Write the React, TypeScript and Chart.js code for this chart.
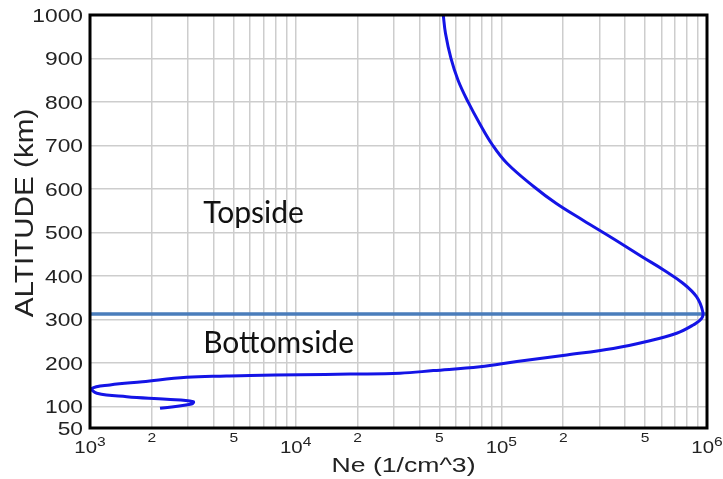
import React, { useEffect, useRef } from "react";
import { Chart, registerables } from "chart.js";

Chart.register(...registerables);

// Electron density profile, ordered from top to bottom
const altitudeKm = [
  1000, 958, 900, 850, 800, 751, 701, 659, 605, 567, 528, 486, 444, 413, 383,
  352, 318, 302, 287, 268, 249, 233, 218, 203, 191, 182, 176, 174, 172.5, 171,
  169.6, 166.6, 156.5, 149, 141, 130, 122, 116, 110.5, 105, 95.3,
];
const electronDensity = [
  52200, 53500, 56900, 61600, 68900, 78300, 90600, 106500, 144100, 184400,
  249500, 349000, 483000, 618000, 764000, 889000, 953000, 942000, 857000,
  712000, 509000, 350000, 208000, 119000, 78700, 46700, 32100, 18400, 10500,
  6000, 4600, 2950, 1800, 1250, 1020, 1080, 1510, 2360, 3180, 3120, 2190,
];

// F-layer peak boundary (km)
const boundaryKm = 312;

// Axis ticks
const yTickValues = [50, 100, 200, 300, 400, 500, 600, 700, 800, 900, 1000];
const xDecades = [1e3, 1e4, 1e5, 1e6];
const xDecadeExponents = ["3", "4", "5", "6"];
const xGridMultipliers = [1, 2, 3, 4, 5, 6, 7, 8, 9];
const xMinorLabelMultipliers = [2, 5];

const xTitle = "Ne (1/cm^3)";
const yTitle = "ALTITUDE (km)";
const annotations = [
  { text: "Topside", x: 3550, y: 521 },
  { text: "Bottomside", x: 3550, y: 222 },
];

const AXIS_FONT = '"Liberation Sans", Arial, sans-serif';
const TEXT_COLOR = "#222";

function drawStretched(
  ctx: CanvasRenderingContext2D,
  text: string,
  x: number,
  y: number,
  font: string,
  sx: number,
  align: "left" | "center" | "right"
) {
  ctx.save();
  ctx.font = font;
  ctx.textBaseline = "alphabetic";
  ctx.textAlign = "left";
  const w = ctx.measureText(text).width * sx;
  let left = x;
  if (align === "center") left = x - w / 2;
  if (align === "right") left = x - w;
  ctx.translate(left, y);
  ctx.scale(sx, 1);
  ctx.fillText(text, 0, 0);
  ctx.restore();
  return w;
}

const labelsPlugin = {
  id: "profileLabels",
  afterDraw(chart: any) {
    const { ctx, chartArea, scales } = chart;
    const xs = scales.x;
    const ys = scales.y;

    // frame
    ctx.save();
    ctx.strokeStyle = "#000";
    ctx.lineWidth = 3;
    ctx.strokeRect(
      chartArea.left,
      chartArea.top,
      chartArea.right - chartArea.left,
      chartArea.bottom - chartArea.top
    );
    ctx.restore();

    ctx.save();
    ctx.fillStyle = TEXT_COLOR;

    // y tick labels
    yTickValues.forEach((v) => {
      const py = ys.getPixelForValue(v);
      drawStretched(ctx, String(v), chartArea.left - 7, py + 7, `19px ${AXIS_FONT}`, 1.2, "right");
    });

    // x tick labels: decades with superscript exponents
    xDecades.forEach((v, i) => {
      const px = xs.getPixelForValue(v);
      ctx.font = `17px ${AXIS_FONT}`;
      const wBase = ctx.measureText("10").width * 1.2;
      ctx.font = `13px ${AXIS_FONT}`;
      const wExp = ctx.measureText(xDecadeExponents[i]).width * 1.2;
      const left = px - (wBase + wExp) / 2;
      drawStretched(ctx, "10", left, chartArea.bottom + 25, `17px ${AXIS_FONT}`, 1.2, "left");
      drawStretched(ctx, xDecadeExponents[i], left + wBase, chartArea.bottom + 18, `13px ${AXIS_FONT}`, 1.2, "left");
    });
    // minor labels 2 and 5
    xDecades.slice(0, -1).forEach((d) => {
      xMinorLabelMultipliers.forEach((m) => {
        const px = xs.getPixelForValue(d * m);
        drawStretched(ctx, String(m), px, chartArea.bottom + 14, `13px ${AXIS_FONT}`, 1.2, "center");
      });
    });

    // axis titles
    const xMid = (chartArea.left + chartArea.right) / 2;
    drawStretched(ctx, xTitle, xMid + 5, chartArea.bottom + 44, `20px ${AXIS_FONT}`, 1.33, "center");

    ctx.save();
    ctx.translate(33, 213);
    ctx.rotate(-Math.PI / 2);
    drawStretched(ctx, yTitle, 0, 0, `26px ${AXIS_FONT}`, 1.14, "center");
    ctx.restore();

    // region annotations
    ctx.fillStyle = "#111";
    annotations.forEach((a) => {
      const px = xs.getPixelForValue(a.x);
      const py = ys.getPixelForValue(a.y);
      drawStretched(ctx, a.text, px, py, `30px Lato, "Open Sans", sans-serif`, 1.0, "left");
    });

    ctx.restore();
  },
};

export default function App() {
  const canvasRef = useRef<HTMLCanvasElement | null>(null);

  useEffect(() => {
    if (!canvasRef.current) return;
    const xGridValues: number[] = [];
    xDecades.slice(0, -1).forEach((d) =>
      xGridMultipliers.forEach((m) => xGridValues.push(d * m))
    );
    xGridValues.push(xDecades[xDecades.length - 1]);

    const chart = new Chart(canvasRef.current, {
      type: "scatter",
      data: {
        datasets: [
          {
            label: "Ne",
            data: altitudeKm.map((h, i) => ({ x: electronDensity[i], y: h })),
            showLine: true,
            borderColor: "#1414e6",
            borderWidth: 3,
            pointRadius: 0,
            tension: 0.4,
            fill: false,
          },
          {
            label: "Boundary",
            data: [
              { x: xDecades[0], y: boundaryKm },
              { x: xDecades[xDecades.length - 1], y: boundaryKm },
            ],
            showLine: true,
            borderColor: "#4a7dbb",
            borderWidth: 3.5,
            pointRadius: 0,
            fill: false,
          },
        ],
      },
      options: {
        animation: false,
        responsive: true,
        maintainAspectRatio: false,
        layout: { padding: { left: 90, top: 15, right: 16, bottom: 51 } },
        plugins: { legend: { display: false }, tooltip: { enabled: false } },
        scales: {
          x: {
            type: "logarithmic",
            min: 1e3,
            max: 1e6,
            afterBuildTicks: (s: any) => {
              s.ticks = xGridValues.map((v) => ({ value: v }));
            },
            afterFit: (s: any) => {
              s.height = 0;
            },
            ticks: { display: false },
            grid: { color: "#cdcdcd", lineWidth: 1.5, drawTicks: false },
            border: { display: false },
          },
          y: {
            type: "linear",
            min: 50,
            max: 1000,
            afterBuildTicks: (s: any) => {
              s.ticks = yTickValues.map((v) => ({ value: v }));
            },
            afterFit: (s: any) => {
              s.width = 0;
            },
            ticks: { display: false },
            grid: { color: "#cdcdcd", lineWidth: 1.5, drawTicks: false },
            border: { display: false },
          },
        },
      },
      plugins: [labelsPlugin],
    });
    return () => chart.destroy();
  }, []);

  return (
    <div
      style={{
        position: "absolute",
        left: 0,
        top: 0,
        width: 723,
        height: 479,
        background: "#fff",
      }}
    >
      <canvas ref={canvasRef} />
    </div>
  );
}
